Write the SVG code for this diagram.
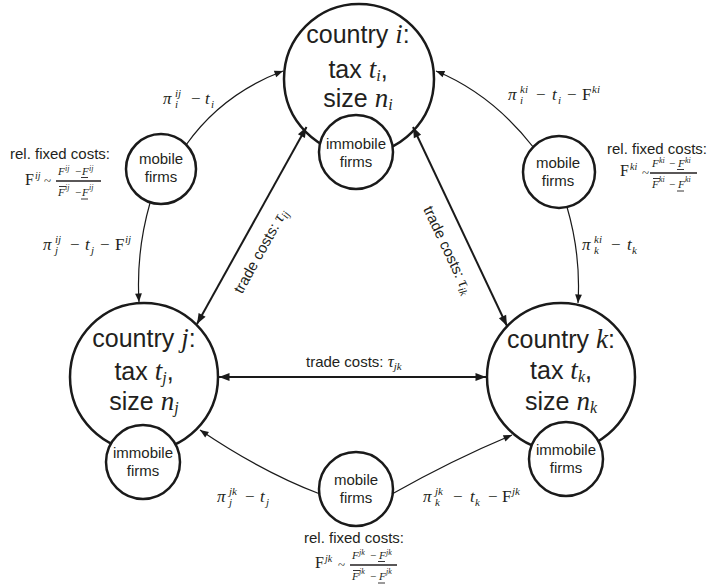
<svg xmlns="http://www.w3.org/2000/svg" width="710" height="588" viewBox="0 0 710 588">
<defs>
<style>
.s{font-family:"Liberation Sans",Arial,sans-serif;fill:#231f20}
.big{font-size:25px}
.sm{font-size:15px}
.m{font-family:"Liberation Serif","DejaVu Serif",serif;font-style:italic;fill:#231f20}
.u{font-family:"Liberation Serif","DejaVu Serif",serif;font-style:normal}
.node{fill:#fff;stroke:#1a1a1a;stroke-width:2.5}
.thin{fill:none;stroke:#1a1a1a;stroke-width:1.2;marker-end:url(#ah)}
.trade{fill:none;stroke:#1a1a1a;stroke-width:2;marker-start:url(#ahb);marker-end:url(#ahb)}
.dec{fill:none;stroke:#231f20;stroke-width:0.9}
.bar{fill:none;stroke:#231f20;stroke-width:1.6}
</style>
<marker id="ah" markerUnits="userSpaceOnUse" markerWidth="10" markerHeight="8" refX="8.5" refY="3.4" orient="auto" overflow="visible"><path d="M0,0 L8.5,3.4 L0,6.8 z" fill="#1a1a1a"/></marker>
<marker id="ahb" markerUnits="userSpaceOnUse" markerWidth="12" markerHeight="9" refX="10.5" refY="4" orient="auto-start-reverse" overflow="visible"><path d="M0,0 L10.5,4 L0,8 z" fill="#1a1a1a"/></marker>
</defs>
<rect width="710" height="588" fill="#fff"/>

<g id="country-i">
<circle class="node" cx="359" cy="79" r="75"/>
<text class="s big" x="358" y="43" text-anchor="middle">country <tspan class="m" font-size="27">i</tspan>:</text>
<text class="s big" x="358" y="78" text-anchor="middle">tax <tspan class="m" font-size="27">t</tspan><tspan class="m" font-size="16" dy="3">i</tspan><tspan dy="-3">,</tspan></text>
<text class="s big" x="358" y="107" text-anchor="middle">size <tspan class="m" font-size="27">n</tspan><tspan class="m" font-size="16" dy="3">i</tspan></text>
</g>
<g id="immobile-i">
<circle class="node" cx="356" cy="152" r="37"/>
<text class="s sm" x="356" y="149" text-anchor="middle">immobile</text>
<text class="s sm" x="356" y="167" text-anchor="middle">firms</text>
</g>

<g id="country-j">
<circle class="node" cx="144" cy="377" r="74"/>
<text class="s big" x="144" y="347" text-anchor="middle">country <tspan class="m" font-size="27">j</tspan>:</text>
<text class="s big" x="144" y="380" text-anchor="middle">tax <tspan class="m" font-size="27">t</tspan><tspan class="m" font-size="16" dy="3">j</tspan><tspan dy="-3">,</tspan></text>
<text class="s big" x="144" y="410" text-anchor="middle">size <tspan class="m" font-size="27">n</tspan><tspan class="m" font-size="16" dy="3">j</tspan></text>
</g>
<g id="immobile-j">
<circle class="node" cx="143" cy="462" r="37"/>
<text class="s sm" x="143" y="458" text-anchor="middle">immobile</text>
<text class="s sm" x="143" y="476" text-anchor="middle">firms</text>
</g>

<g id="country-k">
<circle class="node" cx="561" cy="377" r="74"/>
<text class="s big" x="561" y="348" text-anchor="middle">country <tspan class="m" font-size="27">k</tspan>:</text>
<text class="s big" x="561" y="379" text-anchor="middle">tax <tspan class="m" font-size="27">t</tspan><tspan class="m" font-size="16" dy="3">k</tspan><tspan dy="-3">,</tspan></text>
<text class="s big" x="561" y="410" text-anchor="middle">size <tspan class="m" font-size="27">n</tspan><tspan class="m" font-size="16" dy="3">k</tspan></text>
</g>
<g id="immobile-k">
<circle class="node" cx="566" cy="459" r="37"/>
<text class="s sm" x="566" y="455" text-anchor="middle">immobile</text>
<text class="s sm" x="566" y="473" text-anchor="middle">firms</text>
</g>

<g id="mobile-ij">
<circle class="node" cx="161" cy="169" r="35"/>
<text class="s sm" x="161" y="164" text-anchor="middle">mobile</text>
<text class="s sm" x="161" y="182" text-anchor="middle">firms</text>
</g>
<g id="mobile-ki">
<circle class="node" cx="559" cy="172" r="36"/>
<text class="s sm" x="558" y="168" text-anchor="middle">mobile</text>
<text class="s sm" x="558" y="186" text-anchor="middle">firms</text>
</g>
<g id="mobile-jk">
<circle class="node" cx="356" cy="489" r="37"/>
<text class="s sm" x="356" y="485" text-anchor="middle">mobile</text>
<text class="s sm" x="356" y="503" text-anchor="middle">firms</text>
</g>

<g id="connectors">
<path class="thin" d="M186,145 Q222,94 283,71"/>
<path class="thin" d="M150,203 Q136,252 139,302"/>
<path class="thin" d="M534,148 Q492,94 436,71"/>
<path class="thin" d="M567,207 Q581,255 578,303"/>
<path class="thin" d="M320,494 Q262,472 200,430"/>
<path class="thin" d="M392,494 Q452,460 512,435"/>
<path class="trade" d="M197,324 L306.5,127"/>
<path class="trade" d="M413,127 L507,326"/>
<path class="trade" d="M219,377 L486,377"/>
</g>

<g id="trade-labels">
<text class="s sm" x="306" y="367">trade costs: <tspan class="m" font-size="17">τ</tspan><tspan class="m" font-size="11" dy="3">jk</tspan></text>
<text class="s sm" transform="translate(260.4,251.1) rotate(-61)" x="0" y="5" text-anchor="middle">trade costs: <tspan class="m" font-size="17">τ</tspan><tspan class="m" font-size="11" dy="3">ij</tspan></text>
<text class="s sm" transform="translate(447.9,250.1) rotate(64.7)" x="0" y="5" text-anchor="middle">trade costs: <tspan class="m" font-size="17">τ</tspan><tspan class="m" font-size="11" dy="3">ik</tspan></text>
</g>

<g id="profit-labels">
<text class="m" font-size="17"><tspan x="163" y="104">π</tspan><tspan font-size="11" x="175" y="97">ij</tspan><tspan font-size="11" x="175" y="108">i</tspan><tspan class="u" x="191" y="104">−</tspan><tspan x="205" y="104">t</tspan><tspan font-size="11" x="211" y="108">i</tspan></text>
<text class="m" font-size="17"><tspan x="43" y="250">π</tspan><tspan font-size="11" x="55" y="243">ij</tspan><tspan font-size="11" x="55" y="254">j</tspan><tspan class="u" x="70" y="250">−</tspan><tspan x="85" y="250">t</tspan><tspan font-size="11" x="91" y="254">j</tspan><tspan class="u" x="100" y="250">−</tspan><tspan class="u" x="115" y="250">F</tspan><tspan font-size="11" x="125" y="243">ij</tspan></text>
<text class="m" font-size="17"><tspan x="508" y="100">π</tspan><tspan font-size="11" x="520" y="93">ki</tspan><tspan font-size="11" x="520" y="104">i</tspan><tspan class="u" x="536" y="100">−</tspan><tspan x="552" y="100">t</tspan><tspan font-size="11" x="558" y="104">i</tspan><tspan class="u" x="567" y="100">−</tspan><tspan class="u" x="582" y="100">F</tspan><tspan font-size="11" x="592" y="93">ki</tspan></text>
<text class="m" font-size="17"><tspan x="582" y="250">π</tspan><tspan font-size="11" x="594" y="243">ki</tspan><tspan font-size="11" x="594" y="254">k</tspan><tspan class="u" x="611" y="250">−</tspan><tspan x="627" y="250">t</tspan><tspan font-size="11" x="632" y="254">k</tspan></text>
<text class="m" font-size="17"><tspan x="217" y="502">π</tspan><tspan font-size="11" x="229" y="495">jk</tspan><tspan font-size="11" x="229" y="506">j</tspan><tspan class="u" x="245" y="502">−</tspan><tspan x="260" y="502">t</tspan><tspan font-size="11" x="266" y="506">j</tspan></text>
<text class="m" font-size="17"><tspan x="423" y="502">π</tspan><tspan font-size="11" x="435" y="495">jk</tspan><tspan font-size="11" x="435" y="506">k</tspan><tspan class="u" x="453" y="502">−</tspan><tspan x="470" y="502">t</tspan><tspan font-size="11" x="475" y="506">k</tspan><tspan class="u" x="488" y="502">−</tspan><tspan class="u" x="502" y="502">F</tspan><tspan font-size="11" x="512" y="495">jk</tspan></text>
</g>

<g id="fixed-costs-ij">
<text class="s sm" x="10" y="159">rel. fixed costs:</text>
<text class="m" font-size="16"><tspan class="u" x="25" y="185">F</tspan><tspan font-size="10" x="35" y="179">ij</tspan><tspan class="u" font-size="13" x="44" y="185">~</tspan></text>
<text class="m" font-size="11"><tspan x="58" y="174.5">F</tspan><tspan font-size="8" x="65" y="170.5">ij</tspan><tspan class="u" x="75" y="174.5">−</tspan><tspan x="82" y="174.5">F</tspan><tspan font-size="8" x="89" y="170.5">ij</tspan><tspan x="58" y="196">F</tspan><tspan font-size="8" x="65" y="190">ij</tspan><tspan class="u" x="75" y="196">−</tspan><tspan x="82" y="196">F</tspan><tspan font-size="8" x="89" y="190">ij</tspan></text>
<path class="bar" d="M56,181 H101"/>
<path class="dec" d="M81,177.5 H88 M59,186.5 H66 M81,199 H88"/>
</g>

<g id="fixed-costs-ki">
<text class="s sm" x="607" y="154">rel. fixed costs:</text>
<text class="m" font-size="16"><tspan class="u" x="620" y="176">F</tspan><tspan font-size="10" x="630" y="170">ki</tspan><tspan class="u" font-size="13" x="642" y="177">~</tspan></text>
<text class="m" font-size="11"><tspan x="652" y="167">F</tspan><tspan font-size="8" x="659" y="163">ki</tspan><tspan class="u" x="669" y="167">−</tspan><tspan x="678" y="167">F</tspan><tspan font-size="8" x="685" y="163">ki</tspan><tspan x="652" y="188">F</tspan><tspan font-size="8" x="659" y="182">ki</tspan><tspan class="u" x="669" y="188">−</tspan><tspan x="678" y="188">F</tspan><tspan font-size="8" x="685" y="182">ki</tspan></text>
<path class="bar" d="M650,173 H697"/>
<path class="dec" d="M677,169.5 H684 M653,178.5 H660 M677,191 H684"/>
</g>

<g id="fixed-costs-jk">
<text class="s sm" x="304" y="543">rel. fixed costs:</text>
<text class="m" font-size="16"><tspan class="u" x="315" y="568">F</tspan><tspan font-size="10" x="325" y="562">jk</tspan><tspan class="u" font-size="13" x="338" y="569">~</tspan></text>
<text class="m" font-size="11"><tspan x="352" y="558.5">F</tspan><tspan font-size="8" x="359" y="554.5">jk</tspan><tspan class="u" x="370" y="558.5">−</tspan><tspan x="379" y="558.5">F</tspan><tspan font-size="8" x="386" y="554.5">jk</tspan><tspan x="352" y="580">F</tspan><tspan font-size="8" x="359" y="574">jk</tspan><tspan class="u" x="370" y="580">−</tspan><tspan x="379" y="580">F</tspan><tspan font-size="8" x="386" y="574">jk</tspan></text>
<path class="bar" d="M350,565 H397"/>
<path class="dec" d="M378,561.5 H385 M353,570.5 H360 M378,583 H385"/>
</g>
</svg>
